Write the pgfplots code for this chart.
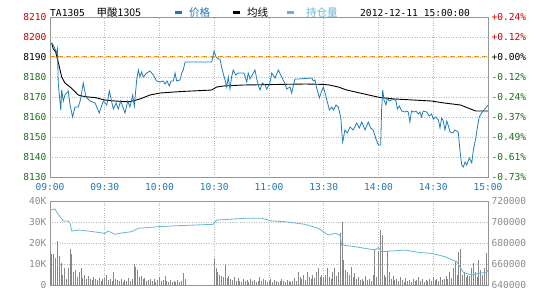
\documentclass[border=0pt]{standalone}
\usepackage{pgfplots}
\pgfplotsset{compat=1.18}
\usepackage{fontspec}
\setmainfont{DejaVu Sans Mono}
\setmonofont{DejaVu Sans Mono}
\newfontfamily\cjk{Noto Sans CJK SC}
\definecolor{priceblue}{RGB}{30,125,185}
\definecolor{oiblue}{RGB}{105,180,210}
\definecolor{volgray}{RGB}{135,135,135}
\definecolor{gridgray}{RGB}{185,185,185}
\definecolor{framegray}{RGB}{150,150,150}
\definecolor{upred}{RGB}{204,0,0}
\definecolor{dngreen}{RGB}{30,110,30}
\definecolor{refor}{RGB}{232,150,30}
\definecolor{ticklblue}{RGB}{30,120,180}
\definecolor{lblgray}{RGB}{140,140,140}
\newcommand{\lf}{\fontsize{9.6}{10}\selectfont}
\pgfplotsset{
  base/.style={scale only axis, width=438pt, xmin=0, xmax=240,
    xtick={0,30,60,90,120,150,180,210,240},
    axis line style={framegray}, major tick length=0pt,
    tick label style={font=\lf}, clip=true},
}
\begin{document}
\begin{tikzpicture}
\useasboundingbox (0,0) rectangle (540pt,-300pt);
% ---------- main price panel
\begin{axis}[base, at={(50pt,-17pt)}, anchor=north west, height=160pt,
  ymin=8130, ymax=8210, ytick={8130,8140,8150,8160,8170,8180,8190,8200,8210},
  yticklabels={\textcolor{dngreen}{8130},\textcolor{dngreen}{8140},\textcolor{dngreen}{8150},\textcolor{dngreen}{8160},\textcolor{dngreen}{8170},\textcolor{dngreen}{8180},\textcolor{black}{8190},\textcolor{upred}{8200},\textcolor{upred}{8210}},
  xticklabels={09:00,09:30,10:00,10:30,11:00,13:30,14:00,14:30,15:00},
  xticklabel style={text=ticklblue, yshift=-3pt},
  ymajorgrids, xmajorgrids, major grid style={gridgray, dotted, line width=0.6pt}]
\addplot[refor, line width=1pt, dash pattern=on 5pt off 3pt, yshift=0.5pt] coordinates {(0,8190) (240,8190)};
\addplot[black, line width=0.9pt] coordinates {
(0.9,8197) (1.8,8194) (3.1,8192.6) (4.5,8187.5) (6.4,8180) (8.2,8177) (11.0,8175) (13.7,8172.7) (15.5,8171) (17.4,8170.5) (21,8170) (24.7,8169.7) (30.1,8168.5) (35.6,8168) (41.1,8167.7) (43.8,8167.7) (49.3,8169) (54.8,8171) (60.3,8172) (71.2,8172.7) (88.6,8173.5) (91.3,8175) (95,8175.5) (106,8176) (140,8176.5) (150,8176.3) (153,8176) (158,8175) (162.5,8173.5) (169.8,8172) (181,8169.7) (189,8169) (208.9,8168) (216,8167) (225,8166) (230.5,8164) (233.3,8163) (240,8163)};
\addplot[priceblue, line width=0.8pt] coordinates {
(0.9,8197) (1.8,8196) (3.7,8192) (4.1,8194) (4.5,8177) (5.9,8163.5) (6.4,8173.5) (7.3,8168) (8.2,8171) (10.0,8173) (11.0,8166) (12.4,8160) (13.7,8165) (15.5,8165) (16.8,8169) (18.2,8177) (19.7,8170) (21.9,8168) (24.7,8167) (27.0,8162) (29.2,8168) (31.1,8166) (32.5,8173) (34.7,8164) (36.2,8167) (37.4,8164) (38.7,8168) (41.1,8162) (42.6,8168) (43.8,8165) (45.3,8171) (46.2,8165.5) (47.5,8178.5) (48.4,8183.5) (49.3,8180) (50.2,8182.5) (51.1,8180) (53.0,8182) (54.8,8183) (56.6,8181) (58.4,8178) (60.3,8177.5) (62.1,8178) (63.0,8176.5) (64.1,8178) (65.4,8175.5) (66.3,8178) (67.6,8178) (68.5,8182) (69.4,8178) (71.2,8178.5) (72.2,8182) (73.0,8183.5) (74.0,8187.5) (88.6,8187.5) (89.9,8193) (91.0,8190) (92.2,8189) (93.1,8189) (94.4,8183.5) (95.9,8178.5) (96.8,8175) (97.7,8180) (98.6,8174) (99.5,8180) (100.4,8183.5) (101.7,8181) (103.2,8182) (105.0,8182) (106.3,8182) (107.8,8177.5) (108.6,8182) (109.6,8179) (110.8,8181) (112.3,8183.5) (113.3,8179) (114.1,8176) (115.1,8173.5) (116.3,8177) (117.8,8176) (118.8,8174) (120.5,8177) (121.5,8182) (123.3,8179.5) (125.1,8183.5) (127.0,8180) (128.8,8176.5) (129.7,8174) (131.5,8175) (132.4,8172) (134.2,8179) (136.0,8179) (143.4,8179.5) (144.3,8178) (145.2,8178.5) (146.1,8174.5) (147.6,8169.5) (148.9,8173) (149.8,8175) (150.7,8172) (151.7,8168.5) (153.1,8163.5) (154.4,8165) (155.3,8163.5) (156.7,8166) (158.0,8165) (159.3,8160) (159.8,8153.5) (160.4,8147.5) (161.6,8153.5) (162.9,8152) (164.4,8155) (166.2,8153.5) (168.0,8157) (169.5,8154.5) (170.8,8157.5) (172.6,8153.5) (174.4,8157.5) (175.7,8154.5) (177.1,8153.5) (178.6,8149) (179.9,8146) (181.2,8146) (181.7,8163.5) (182.3,8173.5) (183.0,8168.5) (184.1,8166) (184.8,8169.5) (185.9,8168) (187.2,8168.5) (188.5,8169) (189.6,8168) (190.3,8164) (191.4,8165.5) (192.7,8163) (194.5,8162.5) (195.4,8163) (196.3,8162.5) (197.2,8157.5) (198.1,8163) (199.4,8162.5) (200.5,8163) (201.8,8161.5) (202.7,8162.5) (203.6,8160) (204.5,8163) (206.4,8162.5) (207.8,8160.5) (209.1,8161.5) (210.0,8159) (211.5,8160) (212.8,8158.5) (213.7,8154.5) (214.6,8159.5) (215.5,8158) (216.4,8153.5) (217.4,8158) (218.3,8155.5) (219.2,8152.5) (220.7,8152) (221.9,8153.5) (223.7,8152.5) (224.6,8143.5) (225.6,8136) (226.5,8135) (227.4,8137.5) (228.3,8136) (229.8,8139.5) (231.1,8137) (232.0,8143.5) (233.4,8150) (234.2,8155) (235.2,8160) (236.5,8162) (237.8,8163.5) (239.2,8165) (240,8166)};
\end{axis}
\begin{axis}[base, at={(50pt,-17pt)}, anchor=north west, height=160pt,
  ymin=8130, ymax=8210, axis x line=none, axis y line*=right,
  ytick={8130,8140,8150,8160,8170,8180,8190,8200,8210},
  yticklabels={\textcolor{dngreen}{-0.73\%},\textcolor{dngreen}{-0.61\%},\textcolor{dngreen}{-0.49\%},\textcolor{dngreen}{-0.37\%},\textcolor{dngreen}{-0.24\%},\textcolor{dngreen}{-0.12\%},\textcolor{black}{+0.00\%},\textcolor{upred}{+0.12\%},\textcolor{upred}{+0.24\%}}]
\end{axis}
% ---------- volume / open interest panel
\begin{axis}[base, at={(50pt,-201pt)}, anchor=north west, height=84pt,
  ymin=0, ymax=40, ytick={0,10,20,30,40}, yticklabels={0,10K,20K,30K,40K},
  yticklabel style={text=lblgray}, xticklabels={},
  grid=major, major grid style={gridgray, dotted, line width=0.6pt}]
\addplot[ycomb, volgray, line width=0.9pt] coordinates {
(0,13.5)(1,15)(2,14.6)(3,13)(4,21)(5,14)(6,10.3)(7,5)(8,8)(9,3)(10,8)(11,17)(12,15)(13,6)(14,7)(15,4)(16,6)(17,8)(18,3.5)(19,5)(20,3)
(21,4.5)(22,3)(23,2.5)(24,4)(25,3)(26,2.5)(27,3.5)(28,2)(29,3)(30,3.5)(31,5)(32,2.5)(33,3)(34,2)(35,6)(36,3)(37,2.5)(38,2)(39,3)(40,1.5)
(41,2.5)(42,2)(43,3.5)(44,2)(45,3)(46,9.9)(47,8.7)(48,7)(49,4)(50,4.5)(51,3)(52,3.5)(53,2)(54,2.5)(55,3)(56,2)(57,3)(58,1.5)(59,2.5)(60,4)
(61,2)(62,2.5)(63,4.3)(64,2)(65,1.5)(66,2.5)(67,1.5)(68,2)(69,1.5)(70,2.5)(71,1.5)(72,2)(73,5.5)(74,3)
(90,12.5)(91,8)(92,6)(93,5)(94,4.5)(95,4)(96,9.9)(97,3.5)(98,4.5)(99,3)(100,2.5)
(101,4)(102,2)(103,3.5)(104,2)(105,1.5)(106,3)(107,2)(108,2.5)(109,1.5)(110,3)(111,2)(112,2.5)(113,1.5)(114,2)(115,4)(116,2)(117,3)(118,2.5)(119,1.5)(120,2)
(121,3)(122,1.5)(123,2.5)(124,2)(125,1.5)(126,2)(127,3)(128,2)(129,1.5)(130,2.5)(131,2)(132,1.5)(133,2)(134,3.5)(135,2)(136,6)(137,4)(138,3)(139,5)(140,2.5)
(141,6)(142,4)(143,3)(144,5)(145,3.5)(146,6)(147,8)(148,4)(149,5)(150,3.5)(151,5)(152,8)(153,4)(154,3)(155,6)(156,8.3)(157,4.5)(158,6)(159,24.6)(160,30)
(161,12)(162,7)(163,6)(164,5)(165,8.7)(166,4)(167,5.5)(168,3)(169,4)(170,2.5)(171,3)(172,2)(173,4.5)(174,2.5)(175,3)(176,2)(177,5)(178,16.7)(179,4)(180,16)
(181,26)(182,23.8)(183,5)(184,4)(185,16)(186,6)(187,3)(188,4.5)(189,2.5)(190,3)(191,2)(192,4)(193,2.5)(194,1.5)(195,3.5)(196,2)(197,2.5)(198,1.5)(199,3)(200,2)
(201,2.5)(202,4)(203,2)(204,3)(205,1.5)(206,2.5)(207,2)(208,3)(209,2)(210,4)(211,2.5)(212,3)(213,2)(214,4)(215,2.5)(216,3)(217,4.5)(218,3)(219,6)(220,3.5)
(221,8)(222,11.4)(223,5)(224,15.9)(225,17)(226,5)(227,6)(228,4)(229,5)(230,4.5)(231,8)(232,10.6)(233,6)(234,4)(235,11.9)(236,7)(237,5)(238,8)(239,15.4)(240,9)};
\end{axis}
\begin{axis}[base, at={(50pt,-201pt)}, anchor=north west, height=84pt,
  ymin=640, ymax=720, axis x line=none, axis y line*=right,
  ytick={640,660,680,700,720}, yticklabels={640000,660000,680000,700000,720000},
  yticklabel style={text=lblgray}]
\addplot[oiblue, line width=0.8pt] coordinates {
(0,711.4) (2.7,712.4) (4.5,707.3) (7.3,701) (10,701) (11,699) (11.9,691.4) (15.5,692.4) (21,691.4) (26.5,690.1) (30.1,689.2) (31.9,691.4) (35.6,688.3) (38.9,689.5) (44.8,690.8) (48.4,694) (59.3,695.5) (70.3,696.5) (89.5,697.8) (91.3,701.9) (106.8,703.5) (116,703.5) (121.5,701) (128.8,700.3) (139.7,697.8) (147,694) (152.5,687.6) (156.2,689.2) (158.9,687.6) (159.8,678.1) (167.1,676.5) (172.6,674.9) (178.1,673.5) (179.9,675.6) (181.7,671.7) (187.2,672.4) (194.5,673.3) (201.8,671.1) (209.1,670.1) (216.4,667) (222.8,662.2) (226.5,652.1) (231.1,649.5) (234.7,651.1) (239.2,652.1) (240,654)};
\end{axis}
% ---------- header
\node[anchor=base west, inner sep=0pt, font=\lf] at (50pt,-16pt) {TA1305};
\node[anchor=base west, inner sep=0pt, font=\cjk\fontsize{10.5}{11}\selectfont] at (96.5pt,-16pt) {甲酸1305};
\fill[ticklblue] (175pt,-11pt) rectangle (182pt,-13.5pt);
\node[anchor=base west, inner sep=0pt, text=ticklblue, font=\cjk\fontsize{10.5}{11}\selectfont] at (189pt,-16pt) {价格};
\fill[black] (233pt,-11pt) rectangle (240pt,-13.5pt);
\node[anchor=base west, inner sep=0pt, font=\cjk\fontsize{10.5}{11}\selectfont] at (247pt,-16pt) {均线};
\fill[oiblue] (287pt,-11pt) rectangle (294pt,-13.5pt);
\node[anchor=base west, inner sep=0pt, text=oiblue, font=\cjk\fontsize{10.5}{11}\selectfont] at (306pt,-16pt) {持仓量};
\node[anchor=base west, inner sep=0pt, font=\lf] at (360pt,-16pt) {2012-12-11 15:00:00};
\end{tikzpicture}
\end{document}
